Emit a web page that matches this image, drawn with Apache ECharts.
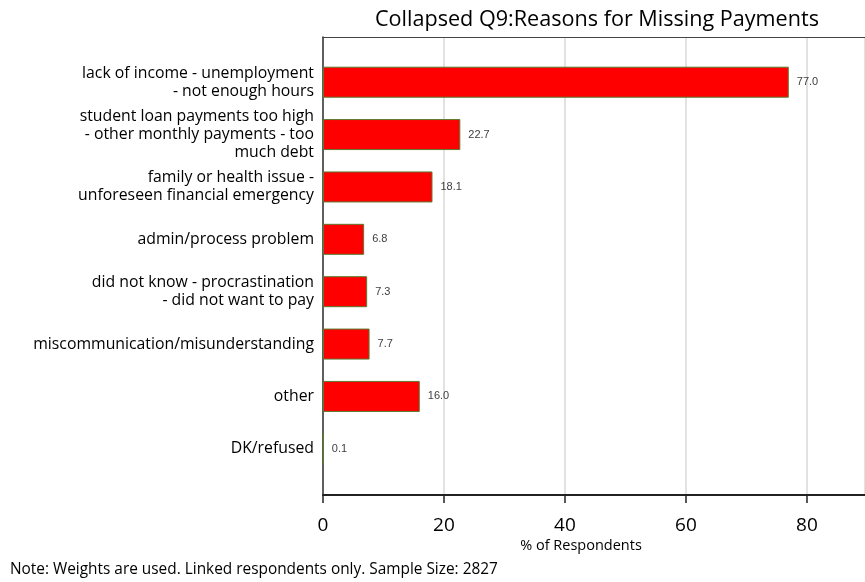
<!DOCTYPE html>
<html><head><meta charset="utf-8">
<script src="https://cdn.jsdelivr.net/npm/echarts@6/dist/echarts.min.js"></script>
<style>html,body{margin:0;padding:0;background:#fff}#c{width:865px;height:582px}</style>
</head><body><div id="c"></div>
<script>
const categories = [
  'lack of income - unemployment\n- not enough hours',
  'student loan payments too high\n- other monthly payments - too\nmuch debt',
  'family or health issue -\nunforeseen financial emergency',
  'admin/process problem',
  'did not know - procrastination\n- did not want to pay',
  'miscommunication/misunderstanding',
  'other',
  'DK/refused'
];
const values = [77.0, 22.7, 18.1, 6.8, 7.3, 7.7, 16.0, 0.1];
const xTicks = [0, 20, 40, 60, 80];
const titleText = 'Collapsed Q9:Reasons for Missing Payments';
const xName = '% of Respondents';
const noteText = 'Note: Weights are used. Linked respondents only. Sample Size: 2827';

const FONT = 'Open Sans';
const XMAX = 89.6;
const chart = echarts.init(document.getElementById('c'), null, {renderer: 'canvas'});
chart.setOption({
  animation: false,
  title: [
    {text: titleText, left: 370, top: 4, textStyle: {fontFamily: FONT, fontSize: 21.6, fontWeight: 'normal', color: '#000'}},
    {text: xName, left: 576, top: 533, textAlign: 'center', textStyle: {fontFamily: FONT, fontSize: 14.5, fontWeight: 'normal', color: '#000'}},
    {text: noteText, left: 5, top: 557, textStyle: {fontFamily: FONT, fontSize: 15.4, fontWeight: 'normal', color: '#000'}}
  ],
  grid: [
    {left: 323, right: 0, top: 56, height: 419, containLabel: false},
    {left: 323, right: 0, top: 37, height: 458, show: false}
  ],
  xAxis: [
    {gridIndex: 0, type: 'value', min: 0, max: XMAX, show: false},
    {gridIndex: 1, type: 'value', min: 0, max: XMAX, interval: 20,
     axisLine: {show: true, lineStyle: {color: '#222', width: 2}},
     axisTick: {show: true, length: 8, lineStyle: {color: '#222', width: 1.5}},
     axisLabel: {fontFamily: FONT, fontSize: 19, color: '#000', margin: 21, showMaxLabel: false,
       formatter: v => xTicks.includes(v) ? String(v) : ''},
     splitLine: {show: true, lineStyle: {color: '#d9d9d9', width: 1.5}}},
    {gridIndex: 1, type: 'value', position: 'top', min: 0, max: XMAX,
     axisLine: {show: true, lineStyle: {color: '#444', width: 1}},
     axisTick: {show: false}, axisLabel: {show: false}, splitLine: {show: false}}
  ],
  yAxis: [
    {gridIndex: 0, type: 'category', inverse: true, data: categories,
     axisLine: {show: false}, axisTick: {show: false},
     axisLabel: {fontFamily: FONT, fontSize: 15.8, color: '#000', margin: 9, lineHeight: 18, align: 'right'}},
    {gridIndex: 1, type: 'value', min: 0, max: 1, axisLabel: {show: false}, axisTick: {show: false}, splitLine: {show: false},
     axisLine: {show: true, lineStyle: {color: '#333', width: 1.5}}}
  ],
  series: [{
    type: 'bar', xAxisIndex: 0, yAxisIndex: 0, data: values, barWidth: 31,
    itemStyle: {color: '#ff0000', borderColor: '#5b7a2e', borderWidth: 1},
    label: {show: true, position: 'right', distance: 8, fontFamily: 'Liberation Sans', fontSize: 11, color: '#404040',
      formatter: p => p.value.toFixed(1)}
  }]
});
</script></body></html>
